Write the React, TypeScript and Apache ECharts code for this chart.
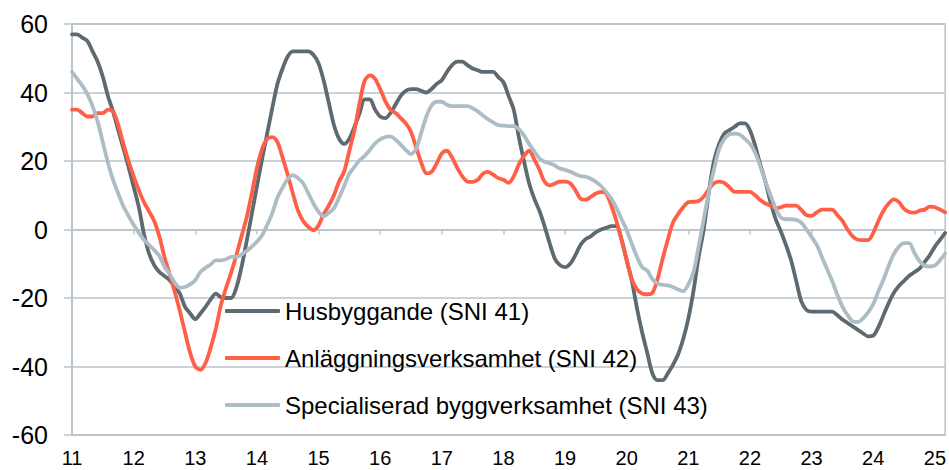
import React, { useEffect, useRef } from "react";
import * as echarts from "echarts";

const yearLabels = ["11","12","13","14","15","16","17","18","19","20","21","22","23","24","25"];
const lastYearMonths = 3;
const categories: string[] = [];
yearLabels.forEach((y, i) => {
  const n = i === yearLabels.length - 1 ? lastYearMonths : 12;
  for (let m = 1; m <= n; m++) categories.push(y + "-" + String(m).padStart(2, "0"));
});

const seriesNames = [
  "Husbyggande (SNI 41)",
  "Anläggningsverksamhet (SNI 42)",
  "Specialiserad byggverksamhet (SNI 43)",
];

const husbyggande = [
  57, 57, 56, 55, 52, 49, 44.6, 39, 34.4, 29,
  23.7, 18.3, 12.5, 6.6, -1.2, -7, -10.4, -12.4, -13.6, -14.8,
  -16.7, -18.7, -22.6, -24.5, -26.2, -24.5, -22.6, -20.4, -18.7, -19.8,
  -20, -20, -17, -11, -3.5, 4.5, 12.5, 20.5, 28, 35.5,
  42.5, 47, 50.5, 52, 52, 52, 52, 51, 48.5, 43.5,
  37, 30.5, 26.5, 25, 26.5, 30, 34, 38, 38, 35,
  33, 32.5, 34, 36.5, 39, 40.5, 41, 41, 40.5, 40,
  41, 42.5, 43.6, 46, 48, 49, 49, 48, 47, 46.5,
  46, 46, 46, 44.5, 43, 39, 35, 27, 20, 13.5,
  9, 5.5, 1, -4, -8.5, -10.4, -11, -10, -7.5, -4.5,
  -2.8, -2, -0.8, 0, 0.5, 1, 1, -3, -9, -15,
  -23, -30, -36, -42, -44, -44, -42, -39.5, -36.5, -32,
  -26, -18, -8, 0, 11, 20, 25, 28, 29, 30,
  31, 31, 29, 24.5, 19, 14, 8, 3, -0.5, -4.5,
  -9, -15, -21, -23.5, -24, -24, -24, -24, -24, -25,
  -26.3, -27.3, -28.3, -29.3, -30.3, -31.2, -31, -28.5, -25, -21.5,
  -18.5, -16.5, -15, -13.5, -12.5, -11.4, -9.5, -7.5, -5, -3,
  -1,
];

const anlaggning = [
  35, 35, 34, 33, 33, 34, 34, 35, 34.5, 30.5,
  25, 20, 15.5, 11.5, 8, 5.3, 2.5, -2, -8, -13,
  -18.2, -23.8, -30, -36, -40, -41, -39, -34.5, -29, -22,
  -17, -12.5, -7.5, -2, 3.5, 10.5, 18, 23.5, 26.5, 27,
  25.5, 21, 16, 10.5, 5.5, 2.5, 0.8, -0.2, 1.2, 4.5,
  7, 10, 14, 17, 23, 29, 37, 43.5, 45, 44,
  41, 37.5, 35, 34, 32.5, 31, 28.5, 24, 19.5, 16.4,
  16.8, 19.3, 22.2, 23, 21, 18, 15.5, 14, 13.9, 14.5,
  16.3, 16.8, 16, 15, 14.5, 13.6, 15.5, 19, 21.5, 23,
  20.5, 17.5, 14, 12.9, 13.4, 14, 14, 13.5, 11.5, 9,
  8.7, 9.5, 10.5, 11, 10.5, 7, 2.5, -3, -9, -14.5,
  -17.5, -18.7, -18.9, -18.5, -14.5, -8.5, -3, 2, 4.5, 6.5,
  8, 8.1, 8.3, 9.6, 11.8, 13.5, 14, 13.6, 12.3, 11,
  11, 11, 11, 10, 8.6, 7.6, 7, 6.2, 6.5, 7,
  7, 7, 5.7, 4.2, 4, 5, 5.8, 5.8, 5.8, 4.2,
  2.5, 0, -2, -3, -3.1, -3.1, -1, 2.5, 5.5, 7.6,
  8.8, 8, 6, 5.1, 4.9, 5.5, 5.8, 6.7, 6.5, 5.8,
  5,
];

const specialiserad = [
  46, 44, 42, 39.5, 36, 31.5, 25.5, 19.5, 14.5, 10.5,
  6.8, 4, 1.4, -0.9, -3, -4.5, -6, -7.7, -10.8, -13,
  -15.5, -17, -16.8, -16, -14.8, -12.4, -11.2, -10.2, -9, -9,
  -8.7, -8, -8, -7.3, -6.3, -5, -3.6, -1.7, 1.3, 4.8,
  9.3, 12.2, 14.7, 15.9, 15, 13.5, 10.6, 7.6, 5.2, 3.8,
  4.8, 6.2, 9.3, 12.7, 16.3, 18.3, 20.2, 21.5, 23.2, 25.1,
  26.3, 27, 27.2, 26.2, 24.8, 23.2, 22, 23.5, 28.3, 33,
  36.2, 37.3, 37.3, 36.4, 36, 36, 36, 36, 35.4, 34.5,
  33.3, 32.2, 31.3, 30.5, 30.3, 30.2, 30.2, 29.3, 27.5, 25,
  22.8, 20.8, 19.8, 19.3, 18.7, 17.8, 17.4, 16.9, 16.2, 15.6,
  15.4, 14.8, 13.9, 12.7, 11, 9, 6.3, 3, -0.2, -4.2,
  -8, -11, -12, -14.5, -15.8, -16.2, -16.3, -16.8, -17.5, -18,
  -16, -12.5, -5, 3, 11, 17.5, 23.5, 26.4, 27.8, 28,
  27.7, 26.5, 25, 22.5, 18.5, 14, 10, 6.2, 3.5, 3,
  3, 2.8, 2, 0, -2.2, -4.5, -8, -11.5, -15, -19,
  -22.5, -25, -26.8, -27, -26, -24.2, -21.8, -18, -14.6, -10.6,
  -7.2, -5, -4, -4, -6.8, -9.2, -10.6, -10.8, -10.5, -9,
  -7,
];

const colors = ["#5e6a6f", "#ff5e47", "#adbdc6"];
const gridColor = "#b7c5cd";
const font = "'Liberation Sans', Arial, sans-serif";
const narrowFont = "'Liberation Sans Narrow', 'Arial Narrow', 'Liberation Sans', sans-serif";

export default function App() {
  const ref = useRef<HTMLDivElement>(null);
  useEffect(() => {
    if (!ref.current) return;
    const chart = echarts.init(ref.current, undefined, { renderer: "svg" });
    const yearTick = (index: number) => index % 12 === 0;
    chart.setOption({
      animation: false,
      backgroundColor: "#ffffff",
      grid: {
        left: 72, top: 24, width: 874, height: 411,
        show: true, borderColor: gridColor, borderWidth: 1.5,
        containLabel: false,
      },
      legend: {
        data: seriesNames,
        orient: "vertical",
        left: 225,
        top: 299,
        padding: 0,
        itemWidth: 55,
        itemHeight: 4,
        itemGap: 23,
        icon: "roundRect",
        textStyle: { fontFamily: font, fontSize: 24, color: "#000", lineHeight: 24 },
      },
      xAxis: [
        {
          type: "category",
          data: categories,
          boundaryGap: false,
          position: "bottom",
          axisLine: { show: true, onZero: true, lineStyle: { color: gridColor, width: 1.5 } },
          axisTick: { show: true, interval: yearTick, length: 5, lineStyle: { color: gridColor, width: 1.5 } },
          axisLabel: { show: false },
          splitLine: { show: false },
        },
        {
          type: "category",
          data: categories,
          boundaryGap: false,
          position: "bottom",
          axisLine: { show: true, onZero: false, lineStyle: { color: gridColor, width: 1.5 } },
          axisTick: { show: false },
          axisLabel: {
            show: true,
            interval: yearTick,
            margin: 13,
            formatter: (v: string) => v.slice(0, 2),
            fontFamily: narrowFont,
            fontSize: 20,
            color: "#000",
          },
          splitLine: { show: false },
        },
      ],
      yAxis: {
        type: "value",
        min: -60,
        max: 60,
        interval: 20,
        axisLine: { show: true, lineStyle: { color: gridColor, width: 2 } },
        axisTick: { show: true, length: 8, lineStyle: { color: gridColor, width: 1.5 } },
        axisLabel: { margin: 24, fontFamily: font, fontSize: 25, color: "#000" },
        splitLine: { show: true, lineStyle: { color: gridColor, width: 1.5 } },
      },
      series: [husbyggande, anlaggning, specialiserad].map((d, i) => ({
        name: seriesNames[i],
        type: "line",
        xAxisIndex: 0,
        data: d,
        showSymbol: false,
        smooth: 0.3,
        lineStyle: { color: colors[i], width: 3.8, cap: "round", join: "round" },
        itemStyle: { color: colors[i] },
      })),
    });
    return () => chart.dispose();
  }, []);
  return (
    <div
      ref={ref}
      style={{ position: "fixed", left: 0, top: 0, width: 949, height: 470, background: "#fff" }}
    />
  );
}
